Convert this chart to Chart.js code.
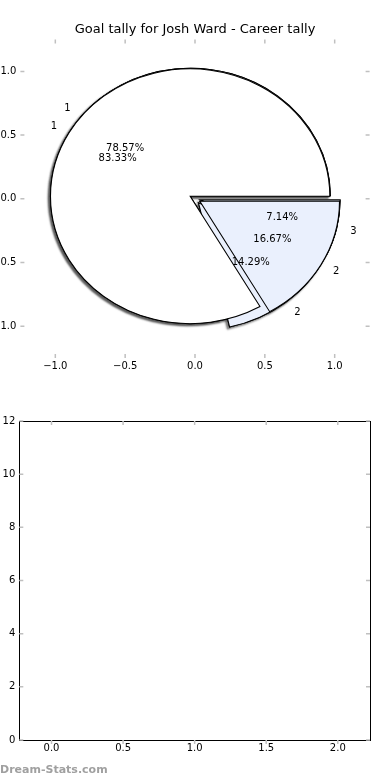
<!DOCTYPE html>
<html>
<head>
<meta charset="utf-8">
<title>Goal tally for Josh Ward - Career tally</title>
<script src="https://cdn.jsdelivr.net/npm/chart.js@4.4.1/dist/chart.umd.min.js"></script>
<style>
  html, body { margin: 0; padding: 0; background: #fff; }
  .box { position: relative; width: 390px; height: 390px; }
</style>
</head>
<body>
<div class="box"><canvas id="pieChart"></canvas></div>
<div class="box"><canvas id="emptyChart"></canvas></div>
<script>
// career tally pie (matplotlib order: counter-clockwise from 3 o'clock)
var tallyLabels = ['1', '2', '3'];
var tallyValues = [11, 2, 1];
// second pie, drawn over the first one
var goalLabels = ['1', '2'];
var goalValues = [10, 2];

// axis ticks
var pieTicks = [-1.0, -0.5, 0.0, 0.5, 1.0];
var barXTicks = [0.0, 0.5, 1.0, 1.5, 2.0];
var barYTicks = [0, 2, 4, 6, 8, 10, 12];

var FONT = 'DejaVu Sans';
var tickFont = { family: FONT, size: 10 };

function fmt1(v) {
    return v.toFixed(1).replace('-', '\u2212');
}
function setTicks(values) {
    return function(scale) {
        scale.ticks = values.map(function(v) { return { value: v }; });
    };
}
function fixedAxis(size) {
    return function(scale) {
        if (scale.isHorizontal()) scale.height = size; else scale.width = size;
        scale.paddingTop = scale.paddingBottom = scale.paddingLeft = scale.paddingRight = 0;
    };
}

// Chart.js turns clockwise, matplotlib counter-clockwise: feed the slices reversed
function cw(arr) { return arr.slice().reverse(); }

// pie that fills the whole radius even when several are overlaid,
// stretched to the axes' x/y units and with exploded slices
class OverlayPie extends Chart.PieController {
    _getRingWeightOffset() { return 0; }
    _getVisibleDatasetWeightTotal() { return 1; }
    paint(withShadow) {
        var chart = this.chart, ctx = chart.ctx;
        var xs = chart.scales.x, ys = chart.scales.y;
        var cx = xs.getPixelForValue(0), cy = ys.getPixelForValue(0);
        var rx = xs.getPixelForValue(1) - cx, ry = cy - ys.getPixelForValue(1);
        var explode = this.getDataset().explode || 0;
        this._cachedMeta.data.forEach(function(arc) {
            var mid = (arc.startAngle + arc.endAngle) / 2;
            ctx.save();
            ctx.translate(cx, cy);
            ctx.scale(rx / ry, 1);
            ctx.translate(-cx, -cy);
            ctx.translate(Math.cos(mid) * explode * ry, Math.sin(mid) * explode * ry);
            if (withShadow) {
                ctx.shadowColor = 'rgba(70,70,70,0.7)';
                ctx.shadowOffsetX = -2;
                ctx.shadowOffsetY = 2;
                ctx.shadowBlur = 2;
            }
            arc.draw(ctx);
            ctx.restore();
        });
    }
    draw() { this.paint(false); }
}
OverlayPie.id = 'overlayPie';
Chart.register(OverlayPie);

function pieMetas(chart) {
    return chart.getSortedVisibleDatasetMetas().filter(function(m) {
        return m.controller instanceof OverlayPie;
    }).reverse();
}

// shadows of all pies go under all wedges
var pieShadows = {
    id: 'pieShadows',
    beforeDatasetsDraw: function(chart) {
        pieMetas(chart).forEach(function(m) { m.controller.paint(true); });
    }
};

// slice labels at 1.1 r and percentages at 0.6 r
var pieTexts = {
    id: 'pieTexts',
    afterDatasetsDraw: function(chart) {
        var ctx = chart.ctx, xs = chart.scales.x, ys = chart.scales.y;
        var cx = xs.getPixelForValue(0), cy = ys.getPixelForValue(0);
        var rx = xs.getPixelForValue(1) - cx, ry = cy - ys.getPixelForValue(1);
        ctx.save();
        ctx.fillStyle = '#000';
        ctx.font = '10px "' + FONT + '"';
        ctx.textBaseline = 'middle';
        pieMetas(chart).forEach(function(m) {
            var ds = chart.data.datasets[m.index];
            var explode = ds.explode || 0;
            var total = ds.data.reduce(function(a, b) { return a + b; }, 0);
            m.data.forEach(function(arc, i) {
                var mid = (arc.startAngle + arc.endAngle) / 2;
                var c = Math.cos(mid), s = Math.sin(mid);
                ctx.textAlign = c > 0 ? 'left' : 'right';
                ctx.fillText(ds.sliceLabels[i], cx + (explode + 1.1) * c * rx, cy + (explode + 1.1) * s * ry);
                ctx.textAlign = 'center';
                var pct = (ds.data[i] / total * 100).toFixed(2) + '%';
                ctx.fillText(pct, cx + (explode + 0.6) * c * rx, cy + (explode + 0.6) * s * ry);
            });
        });
        ctx.restore();
    }
};

// little grey tick marks on the sides of the axes box (+ inward, - outward)
var tickMarks = {
    id: 'tickMarks',
    afterDraw: function(chart, args, o) {
        var ctx = chart.ctx, a = chart.chartArea, xs = chart.scales.x, ys = chart.scales.y;
        ctx.save();
        if (o.frame) {
            ctx.strokeStyle = '#000';
            ctx.lineWidth = 1;
            ctx.strokeRect(Math.round(a.left) + 0.5, Math.round(a.top) + 0.5,
                Math.round(a.right) - Math.round(a.left), Math.round(a.bottom) - Math.round(a.top));
        }
        ctx.strokeStyle = '#c0c0c0';
        ctx.lineWidth = 1.5;
        ctx.beginPath();
        xs.ticks.forEach(function(t) {
            var x = xs.getPixelForValue(t.value);
            ctx.moveTo(x, a.top); ctx.lineTo(x, a.top + o.top);
            ctx.moveTo(x, a.bottom); ctx.lineTo(x, a.bottom - o.bottom);
        });
        ys.ticks.forEach(function(t) {
            var y = ys.getPixelForValue(t.value);
            ctx.moveTo(a.left, y); ctx.lineTo(a.left + o.left, y);
            ctx.moveTo(a.right, y); ctx.lineTo(a.right - o.right, y);
        });
        ctx.stroke();
        if (o.watermark) {
            ctx.fillStyle = '#a0a0a0';
            ctx.font = 'bold 11px "' + FONT + '"';
            ctx.textAlign = 'left';
            ctx.textBaseline = 'middle';
            ctx.fillText(o.watermark, 0, chart.height - 10);
        }
        ctx.restore();
    }
};

var sliceBlue = '#eaf0fd';
var hiddenAxis = {
    type: 'linear', position: 'right', min: 0, max: 1,
    grid: { display: false, drawTicks: false },
    border: { display: false },
    ticks: { display: false },
    afterFit: fixedAxis(20.4)
};

// Career tally pies
new Chart(document.getElementById('pieChart'), {
    type: 'scatter',
    data: {
        datasets: [{
            type: 'overlayPie',
            label: 'Career tally',
            data: cw(tallyValues),
            sliceLabels: cw(tallyLabels),
            backgroundColor: cw(['#ffffff', sliceBlue, sliceBlue]),
            explode: 0.04,
            order: 2
        }, {
            type: 'overlayPie',
            label: 'Goals',
            data: cw(goalValues),
            sliceLabels: cw(goalLabels),
            backgroundColor: cw(['#ffffff', sliceBlue]),
            explode: 0.04,
            order: 1
        }]
    },
    options: {
        animation: false,
        responsive: true,
        maintainAspectRatio: false,
        layout: { padding: 0 },
        datasets: {
            overlayPie: {
                rotation: 90,
                radius: function(ctx) {
                    var ys = ctx.chart.scales.y;
                    return ys.getPixelForValue(0) - ys.getPixelForValue(1);
                }
            }
        },
        elements: {
            arc: { borderColor: '#000', borderWidth: 1, borderJoinStyle: 'miter', borderAlign: 'center' }
        },
        plugins: {
            legend: { display: false },
            tooltip: { enabled: false },
            title: {
                display: true,
                text: 'Goal tally for Josh Ward - Career tally',
                color: '#000',
                font: { family: FONT, size: 13, weight: 'normal' },
                padding: { top: 22, bottom: 2 }
            },
            tickMarks: { top: 4, bottom: 4, left: 4, right: 4 }
        },
        scales: {
            x: {
                type: 'linear', min: -1.25, max: 1.25,
                grid: { display: false, drawTicks: false },
                border: { display: false },
                ticks: { font: tickFont, color: '#000', padding: 2, callback: function(v) { return fmt1(v); } },
                afterBuildTicks: setTicks(pieTicks),
                afterFit: fixedAxis(32)
            },
            y: {
                type: 'linear', min: -1.25, max: 1.25,
                grid: { display: false, drawTicks: false },
                border: { display: false },
                ticks: { font: tickFont, color: '#000', padding: 4, callback: function(v) { return fmt1(v); } },
                afterBuildTicks: setTicks(pieTicks),
                afterFit: fixedAxis(20.4)
            },
            yRight: hiddenAxis
        }
    },
    plugins: [pieShadows, pieTexts, tickMarks]
});

// empty second axes
new Chart(document.getElementById('emptyChart'), {
    type: 'scatter',
    data: { datasets: [] },
    options: {
        animation: false,
        responsive: true,
        maintainAspectRatio: false,
        layout: { padding: { left: 0, right: 20, top: 31, bottom: 0 } },
        plugins: {
            legend: { display: false },
            tooltip: { enabled: false },
            tickMarks: { top: 4, bottom: -4, left: 4, right: 4, frame: true, watermark: 'Dream-Stats.com' }
        },
        scales: {
            x: {
                type: 'linear', min: -0.225, max: 2.225,
                grid: { display: false, drawTicks: false },
                border: { display: false },
                ticks: { font: tickFont, color: '#000', padding: 2, callback: function(v) { return fmt1(v); } },
                afterBuildTicks: setTicks(barXTicks),
                afterFit: fixedAxis(40)
            },
            y: {
                type: 'linear', min: 0, max: 12,
                grid: { display: false, drawTicks: false },
                border: { display: false },
                ticks: { font: tickFont, color: '#000', padding: 4, callback: function(v) { return String(v); } },
                afterBuildTicks: setTicks(barYTicks),
                afterFit: fixedAxis(19.3)
            }
        }
    },
    plugins: [tickMarks]
});
</script>
</body>
</html>
